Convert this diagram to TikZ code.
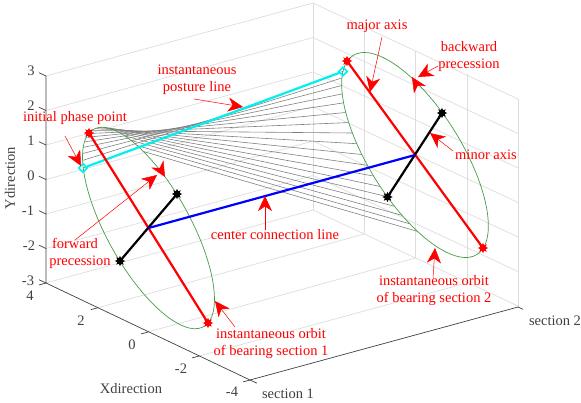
\documentclass[tikz,border=0pt]{standalone}
\usepackage{fontspec}
\setmainfont{Liberation Serif}
\usetikzlibrary{arrows.meta,shapes.geometric}
\definecolor{gridgray}{HTML}{DDDDDD}
\definecolor{axisgray}{HTML}{404040}
\definecolor{orbitgreen}{HTML}{4A9A4A}
\definecolor{fangray}{HTML}{808080}
\definecolor{purecyan}{RGB}{0,240,240}
\tikzset{
  gridline/.style={draw=gridgray,line width=0.7pt},
  axisline/.style={draw=axisgray,line width=0.7pt},
  orbit/.style={draw=orbitgreen,line width=0.7pt},
  fanline/.style={draw=fangray,line width=0.6pt},
  axisred/.style={draw=red,line width=2.2pt},
  axisblack/.style={draw=black,line width=2.2pt},
  linkblue/.style={draw=blue,line width=2.2pt},
  linkcyan/.style={draw=purecyan,line width=2.2pt},
  redstar/.style={star,star points=8,star point ratio=1.8,minimum size=10.5pt,inner sep=0pt,fill=red},
  blackstar/.style={star,star points=8,star point ratio=1.8,minimum size=10.5pt,inner sep=0pt,fill=black},
  cyanmark/.style={diamond,draw=purecyan,line width=1.6pt,minimum size=9pt,inner sep=0pt,aspect=1},
  note/.style={text=red,font=\fontsize{14.5}{17}\selectfont,align=center,inner sep=0pt},
  ticklabel/.style={text=axisgray,font=\fontsize{14.5}{17}\selectfont,inner sep=0pt},
  pointer/.style={draw=red,line width=0.5pt,-{Stealth[length=15pt,width=14pt,inset=4.5pt,fill=red]}},
}
\begin{document}
\begin{tikzpicture}[x=1pt,y=-1pt]
\useasboundingbox (0,0) rectangle (581,402);
% box corners
\coordinate (O) at (46,283); \coordinate (T) at (46,76);
\coordinate (C) at (250,380); \coordinate (R) at (518,307);
\coordinate (B) at (313,210); \coordinate (BT) at (313,3);
% grid
\foreach \y in {76,110.5,145,179.5,214,248.5,283}{
  \draw[gridline] (46,\y) -- (313,\y-73) -- (518,\y+23);
}
\foreach \x/\a/\b in {364/26.6/234, 415.5/50.5/258, 467/74/283, 518/99/307}{
  \draw[gridline] (\x,\a) -- (\x,\b);
}
\draw[gridline] (BT) -- (B);
\foreach \x/\y/\u/\v in {98/307.7/364/234, 148/332/415.5/258, 199/356/467/283}{
  \draw[gridline] (\x,\y) -- (\u,\v);
}
% fan of posture lines
\foreach \i in {0,...,17}{
  \pgfmathsetmacro{\ta}{-34+\i*5.53}
  \pgfmathsetmacro{\tb}{11+\i*6.06}
  \draw[fanline] ({148.5-59.5*cos(\ta)+28.5*sin(\ta)},{228-95*cos(\ta)-33.5*sin(\ta)})
    -- ({415-68*cos(\tb)-27.5*sin(\tb)},{155-93.5*cos(\tb)+42*sin(\tb)});
}
% axes
\draw[axisline] (T) -- (O) -- (C) -- (R);
\draw[axisline] (C) -- (257,383.2);
\draw[axisline] (R) -- (523,309.3);
\draw[axisline] (O) -- (39,285);
\foreach \y in {76,110.5,145,179.5,214,248.5,283}{
  \draw[axisline] (46,\y) -- (39,\y-3.3);
}
\foreach \x/\y in {98/307.7,148/332,199/356,250/380}{
  \draw[axisline] (\x,\y) -- (\x-7,\y+1.9);
}
% orbits
\draw[orbit] plot[smooth cycle,samples=72,domain=0:355] ({148.5+59.5*cos(\x)+28.5*sin(\x)},{228+95*cos(\x)-33.5*sin(\x)});
\draw[orbit] plot[smooth cycle,samples=72,domain=0:355] ({415+68*cos(\x)+27.5*sin(\x)},{155+93.5*cos(\x)-42*sin(\x)});
% orbit points
\node[cyanmark] (cy1) at (83,168) {};
\node[cyanmark] (cy2) at (343,71.5) {};
\node[redstar] (r1a) at (89,133) {};
\node[redstar] (r1b) at (208,323) {};
\node[redstar] (r2a) at (347,61) {};
\node[redstar] (r2b) at (483,248) {};
\node[blackstar] (k1a) at (177,194) {};
\node[blackstar] (k1b) at (120,261) {};
\node[blackstar] (k2a) at (442,113) {};
\node[blackstar] (k2b) at (387.5,197) {};
\draw[linkcyan] (cy1) -- (cy2);
\draw[axisred] (r1a.center) -- (r1b.center);
\draw[axisred] (r2a.center) -- (r2b.center);
\draw[axisblack] (k1a.center) -- (k1b.center);
\draw[axisblack] (k2a.center) -- (k2b.center);
\coordinate (c1) at (148.5,228); \coordinate (c2) at (415,155);
\draw[linkblue] (c1) -- (c2);
% tick labels
\node[ticklabel] (y3) at (31,71) {3};
\node[ticklabel] (y2) at (31,106) {2};
\node[ticklabel] (y1) at (31,141) {1};
\node[ticklabel] (y0) at (31,176) {0};
\node[ticklabel] (ym1) at (28,211) {-1};
\node[ticklabel] (ym2) at (29,246) {-2};
\node[ticklabel] (ym3) at (28,281) {-3};
\node[ticklabel] (x4) at (30,296) {4};
\node[ticklabel] (x2) at (81,321) {2};
\node[ticklabel] (x0) at (132,345) {0};
\node[ticklabel] (xm2) at (181,369) {-2};
\node[ticklabel] (xm4) at (232,392) {-4};
\node[ticklabel] (xlab) at (131,389) {Xdirection};
\node[ticklabel,rotate=90] (ylab) at (10,178) {Ydirection};
\node[ticklabel] (s1) at (288,394) {section 1};
\node[ticklabel] (s2) at (555,321) {section 2};
% notes
\node[note] (n1) at (197,80) {instantaneous\\posture line};
\node[note] (n2) at (75,118) {initial phase point};
\node[note] (n3) at (80,253.5) {forward\hspace*{10pt}\\precession};
\node[note] (n4) at (377,26) {major axis};
\node[note] (n5) at (469,57) {backward\\precession};
\node[note] (n6) at (486,155) {minor axis};
\node[note] (n7) at (275,235) {center connection line};
\node[note] (n8) at (271,343.5) {instantaneous orbit\\of bearing section 1};
\node[note] (n9) at (434,290.5) {instantaneous orbit\\of bearing section 2};
% pointers
\coordinate (a1) at (194,99); \coordinate (b1) at (243,107);
\coordinate (a2) at (65,136); \coordinate (b2) at (81,166);
\coordinate (a3) at (75,240); \coordinate (b3) at (157,175);
\coordinate (a4) at (382,37); \coordinate (b4) at (370,92);
\coordinate (a5) at (438,66); \coordinate (b5) at (418,77);
\coordinate (a6) at (453,151); \coordinate (b6) at (430,133);
\coordinate (a7) at (265,230); \coordinate (b7) at (265,196);
\coordinate (a8) at (235,327); \coordinate (b8) at (215,301);
\coordinate (a9) at (433,278); \coordinate (b9) at (435,248);
\foreach \i in {1,...,9}{ \draw[pointer] (a\i) -- (b\i); }
% heads that sit on the orbits and show the sense of precession
\coordinate (a10) at (160,168.5); \coordinate (b10) at (165,177);
\coordinate (a11) at (417,85); \coordinate (b11) at (412,77);
\draw[pointer] (a10) -- (b10);
\draw[pointer] (a11) -- (b11);
\end{tikzpicture}
\end{document}
